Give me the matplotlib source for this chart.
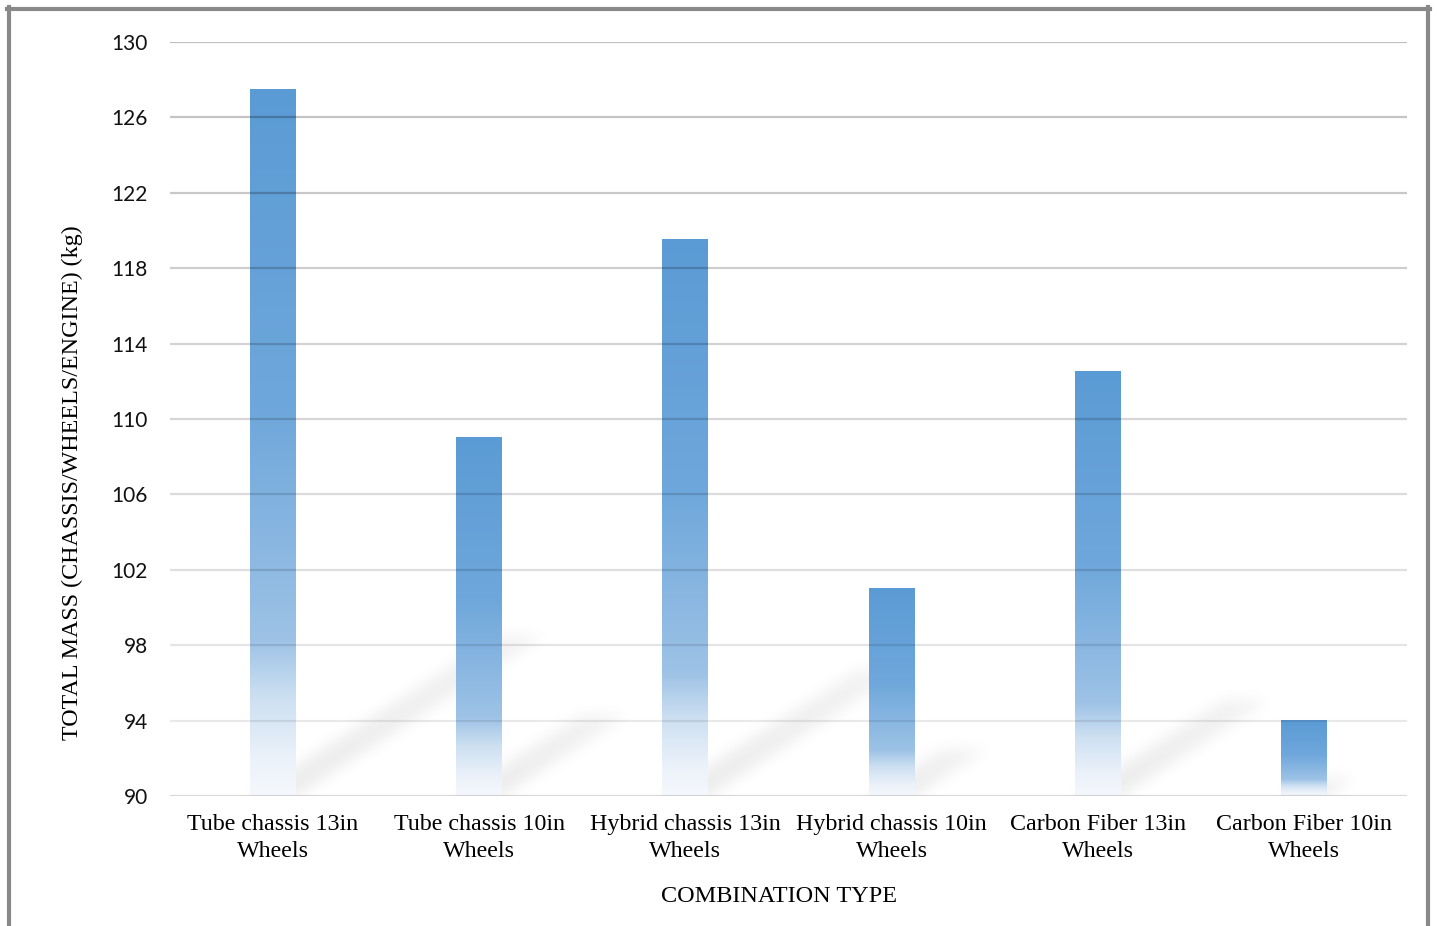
import numpy as np
import matplotlib
matplotlib.use("Agg")
import matplotlib.pyplot as plt
from matplotlib.colors import LinearSegmentedColormap
from matplotlib.lines import Line2D

# Data
categories = [
    "Tube chassis 13in\nWheels",
    "Tube chassis 10in\nWheels",
    "Hybrid chassis 13in\nWheels",
    "Hybrid chassis 10in\nWheels",
    "Carbon Fiber 13in\nWheels",
    "Carbon Fiber 10in\nWheels",
]
total_mass = [127.5, 109.0, 119.5, 101.0, 112.5, 94.0]
y_ticks = [90, 94, 98, 102, 106, 110, 114, 118, 122, 126, 130]

Y_MIN, Y_MAX = 90, 130
BAR_W = 0.223

W_PX, H_PX = 1437, 926
fig = plt.figure(figsize=(W_PX / 100, H_PX / 100), dpi=100)
ax_l, ax_r, ax_t, ax_b = 170, 1407, 42, 796
ax = fig.add_axes([ax_l / W_PX, 1 - ax_b / H_PX,
                   (ax_r - ax_l) / W_PX, (ax_b - ax_t) / H_PX])
ax.set_xlim(-0.5, len(categories) - 0.5)
ax.set_ylim(Y_MIN, Y_MAX)

# Vertical gradient used to fill each bar (top -> bottom)
bar_cmap = LinearSegmentedColormap.from_list(
    "bar_fade",
    [(0.00, (91/255, 155/255, 213/255)),
     (0.45, (110/255, 167/255, 219/255)),
     (0.78, (157/255, 194/255, 230/255)),
     (0.86, (204/255, 223/255, 241/255)),
     (0.95, (236/255, 242/255, 250/255)),
     (1.00, (245/255, 248/255, 252/255))])
grad = np.linspace(0, 1, 256).reshape(-1, 1)

# Soft perspective shadows cast by the bars
pw, ph = ax_r - ax_l, ax_b - ax_t
px_per_unit_x = pw / len(categories)
px_per_unit_y = ph / (Y_MAX - Y_MIN)
yy, xx = np.mgrid[0:ph, 0:pw].astype(float)
shadow = np.zeros((ph, pw))
for i, v in enumerate(total_mass):
    hp = (v - Y_MIN) * px_per_unit_y
    xl = (i + 0.5 - BAR_W / 2) * px_per_unit_x
    xr = (i + 0.5 + BAR_W / 2) * px_per_unit_x
    dx, dy = 0.35 * hp, 0.226 * hp
    t = yy / dy
    xs = xx - t * dx
    inside = (t >= 0) & (t <= 1) & (xs >= xl) & (xs <= xr)
    shadow += inside * (1.0 - 0.35 * np.clip(t, 0, 1))


def blur(a, sigma):
    r = int(3 * sigma)
    k = np.exp(-0.5 * (np.arange(-r, r + 1) / sigma) ** 2)
    k /= k.sum()
    a = np.apply_along_axis(lambda m: np.convolve(m, k, mode="same"), 0, a)
    a = np.apply_along_axis(lambda m: np.convolve(m, k, mode="same"), 1, a)
    return a


shadow = blur(np.clip(shadow, 0, 1), 7)
rgba = np.zeros((ph, pw, 4))
rgba[..., :3] = 0.35
rgba[..., 3] = 0.12 * shadow
ax.imshow(rgba, extent=(-0.5, len(categories) - 0.5, Y_MIN, Y_MAX),
          origin="lower", aspect="auto", zorder=1, interpolation="bilinear")

# Bars with gradient fill
for i, v in enumerate(total_mass):
    ax.imshow(grad, cmap=bar_cmap, extent=(i - BAR_W / 2, i + BAR_W / 2, Y_MIN, v),
              origin="upper", aspect="auto", zorder=2, interpolation="bilinear")

# Gridlines fading from darker at the top to lighter at the bottom
for y in y_ticks:
    frac = (y - Y_MIN) / (Y_MAX - Y_MIN)
    alpha = 0.15 if y == Y_MIN else 0.07 + 0.18 * frac
    ax.axhline(y, color="black", alpha=alpha, lw=1.6, zorder=3)

ax.set_xlim(-0.5, len(categories) - 0.5)
ax.set_ylim(Y_MIN, Y_MAX)
for s in ax.spines.values():
    s.set_visible(False)
ax.set_yticks(y_ticks)
ax.set_yticklabels([str(t) for t in y_ticks], fontsize=15, family="Lato", color="#111111")
ax.set_xticks(range(len(categories)))
ax.set_xticklabels(categories, fontsize=17.3, family="Liberation Serif", color="black",
                   linespacing=1.38)
ax.tick_params(axis="both", length=0)
ax.tick_params(axis="y", pad=16)
ax.tick_params(axis="x", pad=13)

fig.text(779 / W_PX, 1 - 896 / H_PX, "COMBINATION TYPE", ha="center", va="center",
         fontsize=17.5, family="Liberation Serif")
fig.text(72 / W_PX, 1 - 483 / H_PX, "TOTAL MASS (CHASSIS/WHEELS/ENGINE) (kg)",
         ha="center", va="center", rotation=90, fontsize=17.3, family="Liberation Serif")

# Grey frame on left, top and right
frame_c = "#898989"
lw = 3.0
fig.add_artist(Line2D([8.5 / W_PX, 8.5 / W_PX], [0, 1 - 7 / H_PX], color=frame_c, lw=lw,
                      transform=fig.transFigure))
fig.add_artist(Line2D([7 / W_PX, 1429.5 / W_PX], [1 - 8.5 / H_PX, 1 - 8.5 / H_PX],
                      color=frame_c, lw=lw, transform=fig.transFigure))
fig.add_artist(Line2D([1428 / W_PX, 1428 / W_PX], [0, 1 - 7 / H_PX], color=frame_c,
                      lw=lw, transform=fig.transFigure))

fig.savefig("out.png", dpi=100, facecolor="white")
